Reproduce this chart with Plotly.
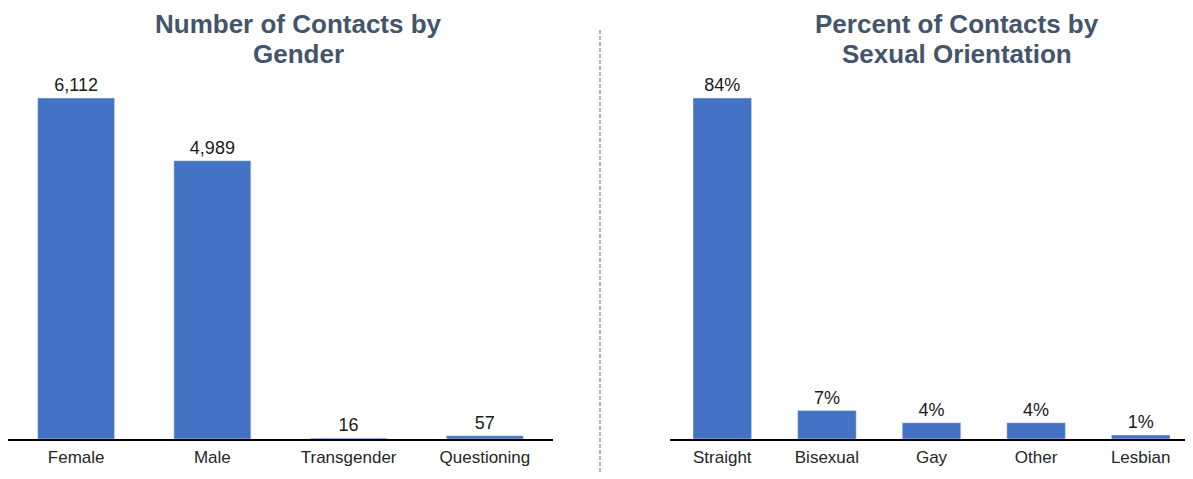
import plotly.graph_objects as go
from plotly.subplots import make_subplots

gender = ["Female", "Male", "Transgender", "Questioning"]
gender_counts = [6112, 4989, 16, 57]

orientation = ["Straight", "Bisexual", "Gay", "Other", "Lesbian"]
orientation_pct = [84, 7, 4, 4, 1]

left_title = ["Number of Contacts by", "Gender"]
right_title = ["Percent of Contacts by", "Sexual Orientation"]

BAR = "#4472C4"
TITLE = "#44546A"
FONT = "Liberation Sans, Arial, sans-serif"

# the page body has an 8px margin, so the figure is drawn 8px smaller
OFF = 8
W, H = 1193 - OFF, 479 - OFF
TOP, BOT = 70 - OFF, 40  # plot area runs from y=70 px to y=439 px on screen
PH = H - TOP - BOT


def px_x(px):
    return (px - OFF) / W


def px_y(px):
    return (H - BOT - (px - OFF)) / PH


fig = make_subplots(rows=1, cols=2)

fig.add_trace(go.Bar(x=gender, y=gender_counts, marker_color=BAR, width=0.565,
                     texttemplate="%{y:,}", textposition="outside", cliponaxis=False,
                     textfont=dict(size=18, color="#1a1a1a")), row=1, col=1)
fig.add_trace(go.Bar(x=orientation, y=orientation_pct, marker_color=BAR, width=0.56,
                     texttemplate="%{y}%", textposition="outside", cliponaxis=False,
                     textfont=dict(size=18, color="#1a1a1a")), row=1, col=2)

fig.update_layout(
    width=W, height=H, showlegend=False,
    margin=dict(l=0, r=0, t=TOP, b=BOT),
    plot_bgcolor="white", paper_bgcolor="white",
    font=dict(family=FONT, size=16, color="#262626"),
    xaxis=dict(domain=[max(px_x(7), 0), px_x(553)]),
    xaxis2=dict(domain=[px_x(670), 1.0]),
)
fig.update_xaxes(showline=True, linecolor="black", linewidth=1.5, ticks="",
                 showgrid=False, automargin=False, ticklabelstandoff=2,
                 tickfont=dict(size=17, color="#262626"))
fig.update_yaxes(visible=False, showgrid=False, automargin=False)
fig.update_yaxes(range=[0, 6112 * PH / 341], row=1, col=1)
fig.update_yaxes(range=[0, 84 * PH / 341], row=1, col=2)

# panel titles, one annotation per line
for cx, lines in [(298, left_title), (957, right_title)]:
    for cy, line in zip([24, 54], lines):
        fig.add_annotation(text=f"<b>{line}</b>", x=px_x(cx), y=px_y(cy),
                           xref="paper", yref="paper", xanchor="center", yanchor="middle",
                           showarrow=False, font=dict(size=26, color=TITLE, family=FONT))

# dashed divider between the two panels
fig.add_shape(type="line", xref="paper", yref="paper", x0=px_x(600), x1=px_x(600),
              y0=px_y(472), y1=px_y(30),
              line=dict(color="#7A8BA6", width=1.3, dash="4px,2px"))

fig.write_html("out.html")
